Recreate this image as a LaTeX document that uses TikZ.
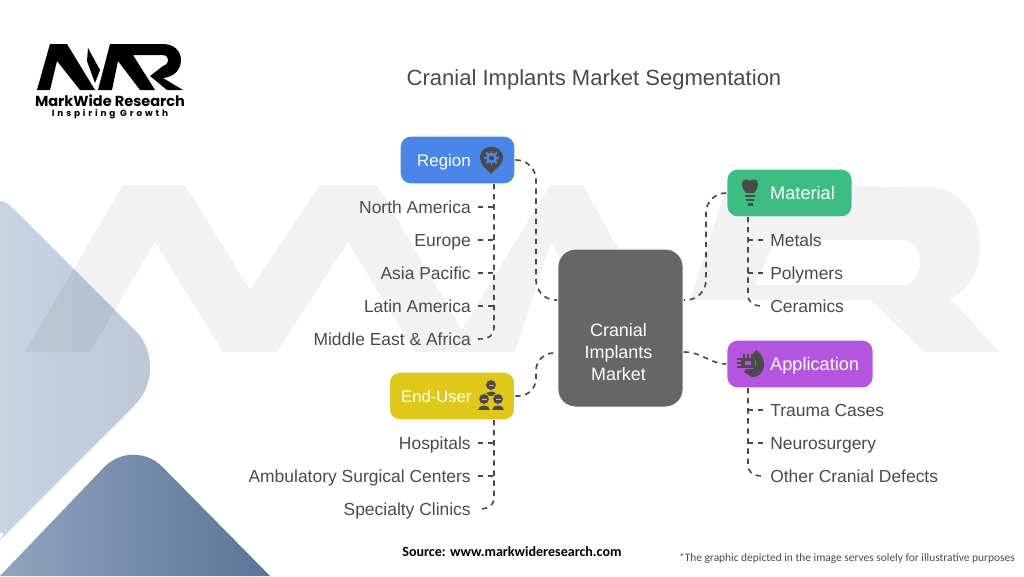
\documentclass[tikz,border=0pt]{standalone}
\usepackage{fontspec}
\setmainfont{Liberation Sans}
\newfontfamily\notefont{Carlito}
\newfontfamily\logofont{Poppins}
\newfontfamily\tagfont[LetterSpace=32]{Poppins}
\usetikzlibrary{positioning}

\definecolor{inkgray}{HTML}{4A4A4A}
\definecolor{regionblue}{HTML}{4A86E8}
\definecolor{materialgreen}{HTML}{3CBD81}
\definecolor{applicationpurple}{HTML}{B455E0}
\definecolor{enduseryellow}{HTML}{E0C81A}
\definecolor{centergray}{HTML}{666666}
\definecolor{paleleft}{HTML}{C9D4E1}
\definecolor{paleright}{HTML}{B9C7D8}
\definecolor{deepleft}{HTML}{8FA4BE}
\definecolor{deepright}{HTML}{5A7598}

\tikzset{
  catbox/.style={draw=white,line width=1pt,rounded corners=9pt,minimum height=41pt},
  catname/.style={text=white,font=\fontsize{15.5}{18}\selectfont,anchor=west,inner sep=0pt,text height=10.7pt,text depth=0pt},
  leaf/.style={text=inkgray,font=\fontsize{14.9}{18}\selectfont,inner sep=6pt,text height=10.7pt,text depth=0pt},
  link/.style={draw=inkgray,line width=1.4pt,dash pattern=on 4.6pt off 4pt},
  iconfill/.style={fill=inkgray,draw=none},
  markfill/.style={fill=black,draw=none},
}

\begin{document}
\begin{tikzpicture}[x=0.03cm,y=-0.03cm]
  \useasboundingbox (0,0) rectangle (1024,576);
  % backdrop shapes
  \shade[left color=paleleft,right color=paleright] (0,201) .. controls (5,201) and (10,205) .. (15,210)
    [rounded corners=46pt] -- (172.5,367.5) -- (15,525) [sharp corners] .. controls (10,530) and (5,533) .. (0,533) -- cycle;
  \shade[left color=deepleft,right color=deepright] (0,576)
    [rounded corners=36pt] -- (133,437) [sharp corners] -- (270,576) -- cycle;
  % watermark
  \fill[black,opacity=.05,even odd rule] (25,352) -- (123,185) -- (185,185) -- (250,290) -- (320,185) -- (377,185) -- (462,330) -- (550,185) -- (583,185) -- (675,352) -- (618,352) -- (551,242) -- (515,352) -- (415,352) -- (348,242) -- (277,352) -- (223,352) -- (155,242) -- (90,352) -- cycle
    (727,185) -- (933,187) .. controls (990,195) and (995,280) .. (950,298) -- (1000,352) -- (925,352) -- (870,300) -- (690,300) -- cycle
    (775,240) -- (905,240) .. controls (925,245) and (925,280) .. (905,285) -- (755,285) -- cycle;

  % logo
  \fill[markfill] (37,90) -- (50,44) -- (67,44) -- (95,90) -- (80,90) -- (57,61) -- (50,90) -- cycle;
  \fill[markfill] (88,48) -- (100,70) -- (95,83) -- (87,61) -- cycle;
  \fill[markfill] (98,90) -- (110,44) -- (163,44) .. controls (187,44) and (187,76) .. (163,78) -- (183,90) -- (167,90) -- (150,76)
    -- (163,66) .. controls (170,64) and (170,56) .. (163,55) -- (133,55) -- (155,90) -- (140,90) -- (118,61) -- (112,90) -- cycle;
  \node[inner sep=0pt,font=\logofont\fontsize{12.4}{14}\selectfont\bfseries] (markname) at (110,101) {MarkWide Research};
  \node[inner sep=0pt,font=\tagfont\fontsize{7.6}{9}\selectfont\bfseries] (marktag) at (110,114.5) {Inspiring Growth};

  \node[text=inkgray,font=\fontsize{18.8}{20}\selectfont] (title) at (594,80) {Cranial Implants Market Segmentation};

  % center and categories
  \node[fill=centergray,draw=white,line width=1pt,rounded corners=15pt,minimum width=107pt,minimum height=135pt] (market) at (620.5,328) {};
  \node[text=white,align=center,font=\fontsize{15.3}{18.7}\selectfont,inner sep=0pt] (marketname) at (618.5,352) {Cranial\\Implants\\Market};
  \node[catbox,fill=regionblue,minimum width=98pt] (region) at (457.5,160) {};
  \node[catbox,fill=materialgreen,minimum width=107pt] (material) at (789.5,193) {};
  \node[catbox,fill=applicationpurple,minimum width=125pt] (application) at (800,364) {};
  \node[catbox,fill=enduseryellow,minimum width=107pt] (enduser) at (452,396) {};
  \node[catname,font=\fontsize{14.4}{18}\selectfont] (regionname) at (417,160) {Region};
  \node[catname] (materialname) at (770,193) {Material};
  \node[catname] (applicationname) at (770,364) {Application};
  \node[catname,font=\fontsize{14.2}{18}\selectfont] (endusername) at (401,396) {End-User};

  % icons
  \fill[iconfill] (491,174) .. controls (486,168) and (480,165) .. (480,158) .. controls (480,143) and (503,143) .. (503,158) .. controls (503,165) and (496,168) .. (491,174) -- cycle;
  \foreach \tooth in {0,45,...,315}{\draw[regionblue,line width=1.6pt] (491.5,158) -- ++(\tooth:7.5);}
  \fill[regionblue] (491.5,158) circle (5.5);
  \fill[iconfill] (491.5,158) circle (2.5);
  \fill[iconfill] (742,184) .. controls (742,178) and (748,179) .. (750,181) .. controls (752,179) and (758,178) .. (758,184) .. controls (758,188) and (755,192) .. (754,193) -- (746,193) .. controls (745,192) and (742,188) .. (742,184) -- cycle;
  \fill[iconfill] (745,195) rectangle (755,197);
  \fill[iconfill] (746,199) rectangle (754,201);
  \fill[iconfill] (748,203) rectangle (753,206);
  \fill[iconfill] (741,358) rectangle (755,368);
  \fill[applicationpurple] (745,361) rectangle (751,365);
  \foreach \piny in {359,363,367}{\draw[inkgray,line width=1pt] (737,\piny) -- (741,\piny);}
  \foreach \pinx in {744,748,752}{\draw[inkgray,line width=1pt] (\pinx,354) -- (\pinx,358);}
  \fill[iconfill] (756,350) .. controls (770,360) and (764,378) .. (752,377) -- (744,372) -- (746,369) -- (753,369) .. controls (758,364) and (757,360) .. (752,355) -- cycle;
  \foreach \iconx/\icony in {491/385,484/399,498/399}{
    \filldraw[fill=inkgray,draw=enduseryellow,line width=.7pt] (\iconx,\icony) circle (5.5);
    \fill[enduseryellow] (\iconx-2.5,\icony-.5) rectangle (\iconx+2.5,\icony+1);
    \fill[iconfill] (\iconx-6,\icony+11) .. controls (\iconx-6,\icony+5) and (\iconx+6,\icony+5) .. (\iconx+6,\icony+11) -- cycle;
  }

  % leaves
  \foreach \leafname/\leafy/\leaftext in {northam/207/North America,europe/240/Europe,asia/273/Asia Pacific,latam/306/Latin America,mea/339/Middle East \& Africa,hospitals/443/Hospitals,ambulatory/476/Ambulatory Surgical Centers,specialty/509/Specialty Clinics}{
    \node[leaf,anchor=east] (\leafname) at (478,\leafy) {\leaftext};
  }
  \foreach \leafname/\leafy/\leaftext in {metals/240/Metals,polymers/273/Polymers,ceramics/306/Ceramics,trauma/410/Trauma Cases,neuro/443/Neurosurgery,othercranial/476/Other Cranial Defects}{
    \node[leaf,anchor=west] (\leafname) at (763,\leafy) {\leaftext};
  }

  % trunk start points under the boxes
  \coordinate (regiontrunk) at (494,184);
  \coordinate (materialtrunk) at (748,217);
  \coordinate (applicationtrunk) at (748,388);
  \coordinate (endusertrunk) at (494,420);

  % side links
  \draw[link,rounded corners=17pt] (region.east) -- (536,160) -- (536,300) -- (market.west |- 0,300);
  \draw[link,rounded corners=17pt] (material.west) -- (706,193) -- (706,300) -- (market.east |- 0,300);
  \draw[link] (market.east |- 0,352) .. controls (702,352) and (708,363) .. (application.west);
  \draw[link,rounded corners=15pt] (enduser.east) -- (536,396) -- (536,353) -- (market.west |- 0,353);

  % trunks with the leaf links
  \draw[link] (regiontrunk) -- (494,327) .. controls (494,335) and (490,339) .. (mea.east);
  \foreach \leafname in {northam,europe,asia,latam}{\draw[link] (\leafname.east) -- (\leafname.east -| regiontrunk);}
  \draw[link] (materialtrunk) -- (748,294) .. controls (748,302) and (752,306) .. (ceramics.west);
  \foreach \leafname in {metals,polymers}{\draw[link] (materialtrunk |- \leafname.west) -- (\leafname.west);}
  \draw[link] (applicationtrunk) -- (748,464) .. controls (748,472) and (752,476) .. (othercranial.west);
  \foreach \leafname in {trauma,neuro}{\draw[link] (applicationtrunk |- \leafname.west) -- (\leafname.west);}
  \draw[link] (endusertrunk) -- (494,497) .. controls (494,505) and (490,509) .. (specialty.east);
  \foreach \leafname in {hospitals,ambulatory}{\draw[link] (\leafname.east) -- (\leafname.east -| endusertrunk);}

  % footer
  \node[inner sep=0pt,font=\notefont\fontsize{12}{14}\selectfont\bfseries] (source) at (512,552) {Source: www.markwideresearch.com};
  \node[inner sep=0pt,text=inkgray,font=\notefont\fontsize{9.75}{11}\selectfont] (note) at (847,558) {*The graphic depicted in the image serves solely for illustrative purposes};
\end{tikzpicture}
\end{document}
